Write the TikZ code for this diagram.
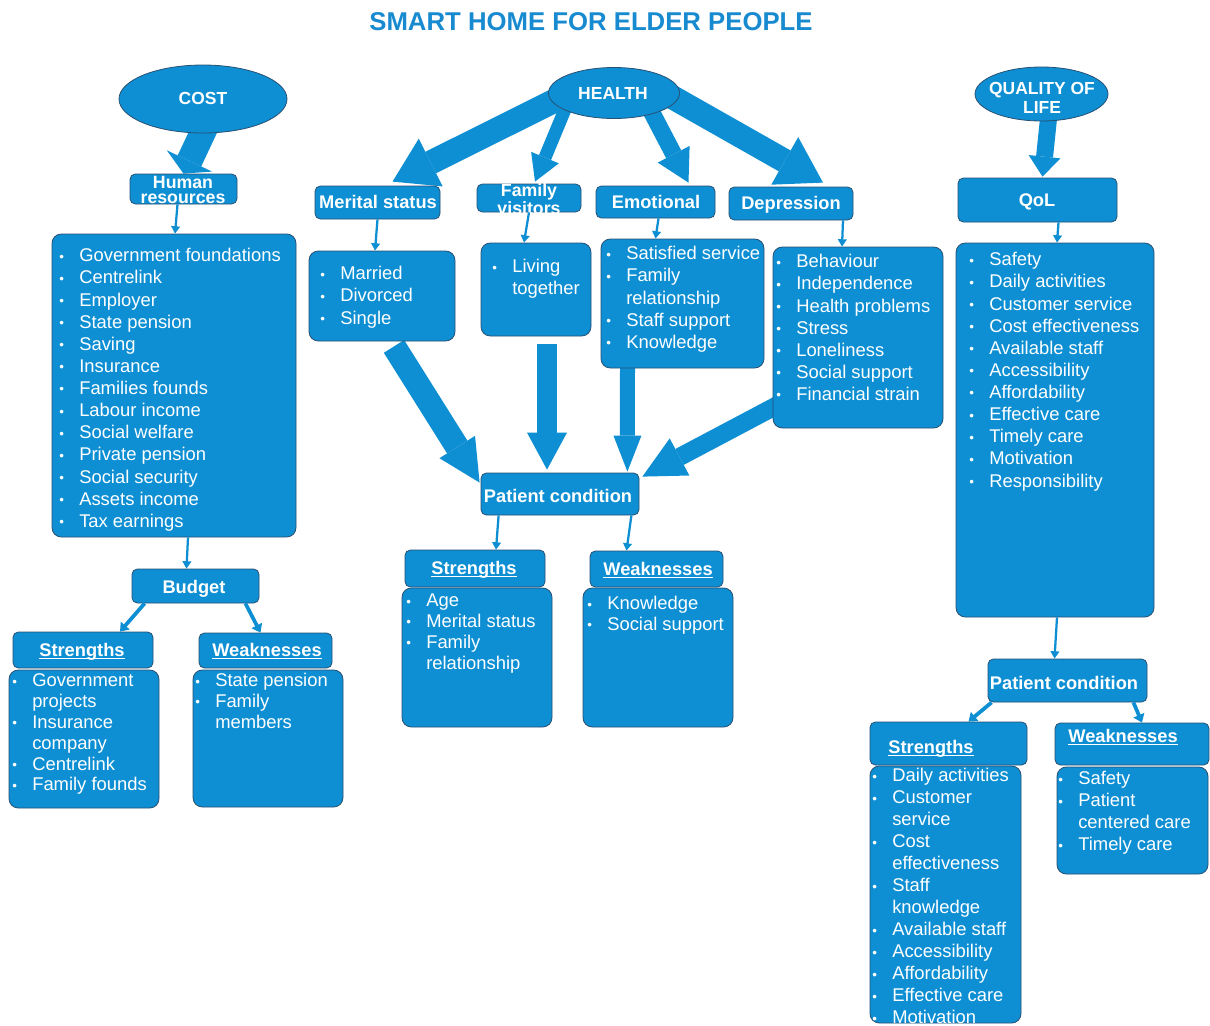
\documentclass[tikz,border=0pt]{standalone}
\usepackage{fontspec}
\setmainfont{Liberation Sans}
\usetikzlibrary{fit,shapes.geometric,arrows.meta,calc}
\definecolor{boxblue}{RGB}{14,143,211}
\definecolor{boxline}{RGB}{40,80,115}
\definecolor{titleblue}{RGB}{24,138,208}
\pgfdeclarelayer{background}
\pgfdeclarelayer{paper}
\pgfsetlayers{paper,background,main}
\newcommand\bl{\strut\llap{\makebox[15pt][l]{\fontsize{10}{10}\selectfont\raisebox{0.5pt}{•}}}}
\newcommand\cn{\strut}
\newsavebox\ulbox
\newcommand\ulin[1]{\sbox\ulbox{#1}\rlap{\rule[-1.6pt]{\wd\ulbox}{0.9pt}}\usebox\ulbox}
\begin{document}
\begin{tikzpicture}[x=0.75pt,y=-0.75pt,
  box/.style={draw=boxline, fill=boxblue, line width=0.6pt, rounded corners=4pt, inner sep=0pt},
  lbox/.style={box, rounded corners=7pt},
  ell/.style={ellipse, draw=boxline, fill=boxblue, line width=0.6pt, inner sep=0pt},
  hdr/.style={text=white, font=\fontsize{13.7}{14}\selectfont\bfseries, inner sep=0pt, text height=9.9pt, text depth=0pt},
  hdr2/.style={text=white, font=\fontsize{13.3}{11.25}\selectfont\bfseries, inner sep=0pt, align=center},
  etxt/.style={text=white, font=\fontsize{13.1}{14.25}\selectfont\bfseries, inner sep=0pt, align=center},
  ltxt/.style={text=white, font=\fontsize{13.8}{16.6}\selectfont, inner sep=0pt, align=left, anchor=north west},
  stxt/.style={ltxt, font=\fontsize{13.8}{15.6}\selectfont},
  rtxt/.style={ltxt, font=\fontsize{13.8}{16.5}\selectfont},
  tarr/.style={draw=boxblue, line width=1.7pt, -{Triangle[width=6.5pt,length=5.5pt]}},
  tarrb/.style={draw=boxblue, line width=2.8pt, -{Triangle[width=8.5pt,length=6pt]}},
  fat/.style n args={3}{draw=boxblue, line width=#1, line cap=butt, -{Triangle[width=#2,length=#3,line width=0pt]}}
]
\useasboundingbox (0,0) rectangle (1210,1025);
\begin{pgfonlayer}{paper}
\fill[white] (0,0) rectangle (1210,1025);
\end{pgfonlayer}

% title
\node[text=titleblue, font=\fontsize{19.3}{22}\selectfont\bfseries, inner sep=0pt] (title) at (591,22) {SMART HOME FOR ELDER PEOPLE};

% ellipses
\node[ell, minimum width=126pt, minimum height=51pt] (cost) at (203,99) {};
\node[ell, minimum width=98.25pt, minimum height=38.25pt] (health) at (614,93) {};
\node[ell, minimum width=99.75pt, minimum height=40.5pt] (qole) at (1041.5,94) {};
\node[etxt] (costt) at (203,98) {COST};
\node[etxt] (healtht) at (613,93) {HEALTH};
\node[etxt] (qolet) at (1042,97.5) {QUALITY OF\\LIFE};

% COST column
\node[box, fit={(130,174)(237,204)}] (hr) {};
\node[hdr2] (hrt) at (183,190) {Human\\resources};
\node[lbox, fit={(52,234)(296,537)}] (l1) {};
\node[ltxt] (l1t) at (79,246) {\bl Government foundations\\\bl Centrelink\\\bl Employer\\\bl State pension\\\bl Saving\\\bl Insurance\\\bl Families founds\\\bl Labour income\\\bl Social welfare\\\bl Private pension\\\bl Social security\\\bl Assets income\\\bl Tax earnings};
\node[box, fit={(132,569)(259,603)}] (budget) {};
\node[hdr] (budgett) at (194,587) {Budget};
\node[box, fit={(13,632)(153,668)}] (bS) {};
\node[hdr] (bSt) at (82,650) {\ulin{Strengths}};
\node[lbox, fit={(9,670)(159,808)}] (bSl) {};
\node[stxt] (bSlt) at (32,672) {\bl Government\\\cn projects\\\bl Insurance\\\cn company\\\bl Centrelink\\\bl Family founds};
\node[box, fit={(199,633)(332,668)}] (bW) {};
\node[hdr] (bWt) at (267,650) {\ulin{Weaknesses}};
\node[lbox, fit={(193,670)(343,807)}] (bWl) {};
\node[stxt] (bWlt) at (215,672) {\bl State pension\\\bl Family\\\cn members};

% HEALTH column
\node[box, fit={(315,186)(440,219)}] (merital) {};
\node[hdr] (meritalt) at (378,202) {Merital status};
\node[box, fit={(477,184)(581,212)}] (family) {};
\node[hdr2] (familyt) at (529,199) {Family\\visitors};
\node[box, fit={(596,186)(715,218)}] (emo) {};
\node[hdr] (emot) at (656,202) {Emotional};
\node[box, fit={(729,187)(853,220)}] (dep) {};
\node[hdr] (dept) at (791,203) {Depression};

\node[lbox, fit={(309,251)(455,341)}] (merlist) {};
\node[ltxt] (merlistt) at (340,264) {\bl Married\\\bl Divorced\\\bl Single};
\node[lbox, fit={(481,243)(591,336)}] (famlist) {};
\node[ltxt] (famlistt) at (512,257) {\bl Living\\\cn together};
\node[lbox, fit={(601,239)(764,368)}] (emolist) {};
\node[ltxt] (emolistt) at (626,244) {\bl Satisfied service\\\bl Family\\\cn relationship\\\bl Staff support\\\bl Knowledge};
\node[lbox, fit={(773,247)(943,428)}] (deplist) {};
\node[ltxt] (deplistt) at (796,252) {\bl Behaviour\\\bl Independence\\\bl Health problems\\\bl Stress\\\bl Loneliness\\\bl Social support\\\bl Financial strain};

\node[box, fit={(481,473)(639,515)}] (pc) {};
\node[hdr] (pct) at (558,496) {Patient condition};
\node[box, fit={(405,550)(545,587)}] (mS) {};
\node[hdr] (mSt) at (474,568) {\ulin{Strengths}};
\node[lbox, fit={(402,588)(552,727)}] (mSl) {};
\node[stxt] (mSlt) at (426,592) {\bl Age\\\bl Merital status\\\bl Family\\\cn relationship};
\node[box, fit={(590,551)(723,587)}] (mW) {};
\node[hdr] (mWt) at (658,569) {\ulin{Weaknesses}};
\node[lbox, fit={(583,588)(733,727)}] (mWl) {};
\node[stxt] (mWlt) at (607,595) {\bl Knowledge\\\bl Social support};

% QoL column
\node[box, fit={(958,178)(1117,222)}] (qol) {};
\node[hdr] (qolt) at (1037,200) {QoL};
\node[lbox, fit={(956,243)(1154,617)}] (qollist) {};
\node[ltxt] (qollistt) at (989,250) {\bl Safety\\\bl Daily activities\\\bl Customer service\\\bl Cost effectiveness\\\bl Available staff\\\bl Accessibility\\\bl Affordability\\\bl Effective care\\\bl Timely care\\\bl Motivation\\\bl Responsibility};
\node[box, fit={(988,659)(1147,702)}] (pcr) {};
\node[hdr] (pcrt) at (1064,683) {Patient condition};
\node[box, fit={(870,722)(1027,765)}] (rS) {};
\node[hdr] (rSt) at (931,747) {\ulin{Strengths}};
\node[lbox, fit={(870,766)(1021,1023)}] (rSl) {};
\node[rtxt] (rSlt) at (892,766) {\bl Daily activities\\\bl Customer\\\cn service\\\bl Cost\\\cn effectiveness\\\bl Staff\\\cn knowledge\\\bl Available staff\\\bl Accessibility\\\bl Affordability\\\bl Effective care\\\bl Motivation};
\node[box, fit={(1055,723)(1209,765)}] (rW) {};
\node[hdr] (rWt) at (1123,736) {\ulin{Weaknesses}};
\node[lbox, fit={(1057,767)(1208,874)}] (rWl) {};
\node[rtxt] (rWlt) at (1078,769) {\bl Safety\\\bl Patient\\\cn centered care\\\bl Timely care};

% fat arrows (behind)
\begin{pgfonlayer}{background}
\draw[fat={19.5pt}{37.5pt}{10.5pt}] ($(cost.south)+(5,-12)$) -- (hr.north);
\draw[fat={18pt}{40pt}{32pt}] ($(health.center)+(-52,4)$) -- ($(merital.north)+(15,-4)$);
\draw[fat={9.75pt}{22.5pt}{19.5pt}] ($(health.center)+(-48,14)$) -- ($(family.north)+(6,-2)$);
\draw[fat={12.75pt}{27pt}{24pt}] ($(health.center)+(36,16)$) -- ($(emo.north)+(33,-3)$);
\draw[fat={18pt}{41pt}{33pt}] ($(health.center)+(58,4)$) -- ($(dep.north)+(32,-4)$);
\draw[fat={18pt}{31.5pt}{31.5pt}] ($(merlist.south)+(12,5)$) -- ($(pc.north west)+(-1,10)$);
\draw[fat={15pt}{30pt}{27.75pt}] ($(famlist.south)+(11,8)$) -- ($(pc.north)+(-13,-3)$);
\draw[fat={11.25pt}{21pt}{27pt}] ($(emolist.south)+(-55,-4)$) -- ($(pc.north east)+(-12,-1)$);
\draw[fat={13.5pt}{31.5pt}{31.5pt}] ($(deplist.west)+(6,67)$) -- ($(pc.north east)+(3,4)$);
\draw[fat={12.75pt}{24pt}{15pt}] ($(qole.center)+(8,15)$) -- ($(qol.north)+(5,-1)$);
\end{pgfonlayer}

% thin arrows
\draw[tarr] ($(hr.south)+(-6,0)$) -- ($(l1.north)+(1,0)$);
\draw[tarr] ($(l1.south)+(14,0)$) -- ($(budget.north)+(-9,0)$);
\draw[tarrb] ($(budget.south west)+(13,0)$) -- ($(bS.north)+(37,0)$);
\draw[tarrb] ($(budget.south east)+(-14,0)$) -- ($(bW.north)+(-5,0)$);
\draw[tarr] (merital.south) -- ($(merlist.north)+(-7,0)$);
\draw[tarr] (family.south) -- ($(famlist.north)+(-12,0)$);
\draw[tarr] ($(emo.south)+(3,0)$) -- ($(emolist.north)+(-27,0)$);
\draw[tarr] ($(dep.south)+(52,0)$) -- ($(deplist.north)+(-16,0)$);
\draw[tarr] ($(pc.south west)+(18,0)$) -- ($(mS.north)+(21,0)$);
\draw[tarr] ($(pc.south east)+(-8,0)$) -- ($(mW.north)+(-30,0)$);
\draw[tarr] ($(qol.south)+(21,0)$) -- ($(qollist.north)+(2,0)$);
\draw[tarr] ($(qollist.south)+(2,0)$) -- ($(pcr.north)+(-13,0)$);
\draw[tarrb] ($(pcr.south west)+(4,0)$) -- ($(rS.north)+(20,0)$);
\draw[tarrb] ($(pcr.south east)+(-14,0)$) -- ($(rW.north)+(10,0)$);
\end{tikzpicture}
\end{document}
